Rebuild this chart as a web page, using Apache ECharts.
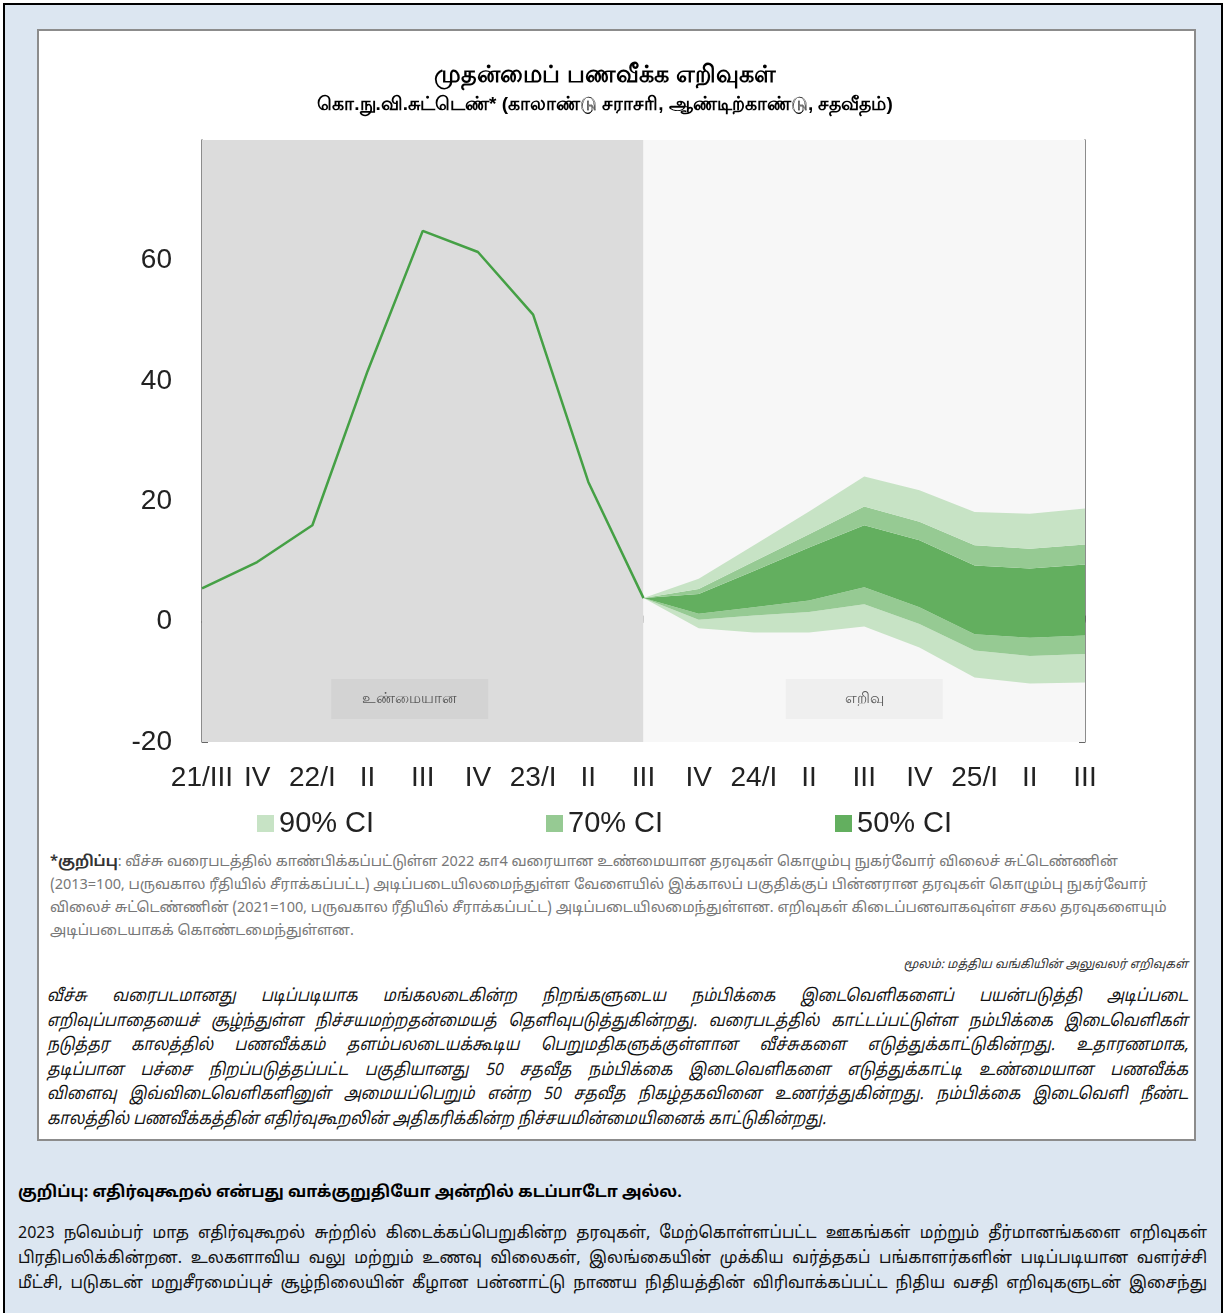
<!DOCTYPE html>
<html>
<head>
<meta charset="utf-8">
<script src="https://cdn.jsdelivr.net/npm/echarts@6/dist/echarts.min.js"></script>
<style>
  html, body { margin: 0; padding: 0; background: #fff; }
  body { width: 1225px; height: 1313px; position: relative; overflow: hidden;
         font-family: 'Noto Sans Tamil', 'Lohit Tamil', 'Latha', 'Liberation Sans', sans-serif; }
  .frame { position: absolute; left: 3px; top: 3px; width: 1216px; height: 1320px;
           background: #dce6f1; border-top: 2px solid #000; border-left: 2px solid #000; border-right: 2px solid #000; }
  .box { position: absolute; left: 37px; top: 29px; width: 1155px; height: 1108px;
         background: #fff; border: 2px solid #8c8c8c; }
  #chart { position: absolute; left: 0; top: 0; width: 1210px; height: 850px; }
  .txt { position: absolute; }
  .jl { text-align: justify; text-align-last: justify; }
  .notes { left: 50px; top: 851px; width: 1130px; font-size: 14.5px; line-height: 23px; color: #777; }
  .notes b { color: #333; }
  .src { right: 37px; top: 958px; font-size: 12px; font-style: italic; color: #333; }
  /* condensed look: lay out wider, then squeeze horizontally */
  .ital { left: 47px; top: 985px; width: 1268px; font-size: 17px; font-style: italic; line-height: 24.6px; color: #111;
          transform: scaleX(0.9); transform-origin: 0 0; }
  .head { left: 18px; top: 1183px; font-size: 16px; font-weight: bold; color: #000; }
  .para { left: 18px; top: 1221px; width: 1265px; font-size: 17px; line-height: 25px; color: #111;
          transform: scaleX(0.94); transform-origin: 0 0; }
</style>
</head>
<body>
<div class="frame"></div>
<div class="box"></div>
<div id="chart"></div>

<div class="txt notes">
  <div><b>*குறிப்பு</b>: வீச்சு வரைபடத்தில் காண்பிக்கப்பட்டுள்ள 2022 கா4 வரையான உண்மையான தரவுகள் கொழும்பு நுகர்வோர் விலைச் சுட்டெண்ணின்</div>
  <div>(2013=100, பருவகால ரீதியில் சீராக்கப்பட்ட) அடிப்படையிலமைந்துள்ள வேளையில் இக்காலப் பகுதிக்குப் பின்னரான தரவுகள் கொழும்பு நுகர்வோர்</div>
  <div>விலைச் சுட்டெண்ணின் (2021=100, பருவகால ரீதியில் சீராக்கப்பட்ட) அடிப்படையிலமைந்துள்ளன. எறிவுகள் கிடைப்பனவாகவுள்ள சகல தரவுகளையும்</div>
  <div>அடிப்படையாகக் கொண்டமைந்துள்ளன.</div>
</div>
<div class="txt src">மூலம்: மத்திய வங்கியின் அலுவலர் எறிவுகள்</div>
<div class="txt ital">
  <div class="jl">வீச்சு வரைபடமானது படிப்படியாக மங்கலடைகின்ற நிறங்களுடைய நம்பிக்கை இடைவெளிகளைப் பயன்படுத்தி அடிப்படை</div>
  <div class="jl">எறிவுப்பாதையைச் சூழ்ந்துள்ள நிச்சயமற்றதன்மையத் தெளிவுபடுத்துகின்றது. வரைபடத்தில் காட்டப்பட்டுள்ள நம்பிக்கை இடைவெளிகள்</div>
  <div class="jl">நடுத்தர காலத்தில் பணவீக்கம் தளம்பலடையக்கூடிய பெறுமதிகளுக்குள்ளான வீச்சுகளை எடுத்துக்காட்டுகின்றது. உதாரணமாக,</div>
  <div class="jl">தடிப்பான பச்சை நிறப்படுத்தப்பட்ட பகுதியானது 50 சதவீத நம்பிக்கை இடைவெளிகளை எடுத்துக்காட்டி உண்மையான பணவீக்க</div>
  <div class="jl">விளைவு இவ்விடைவெளிகளினுள் அமையப்பெறும் என்ற 50 சதவீத நிகழ்தகவினை உணர்த்துகின்றது. நம்பிக்கை இடைவெளி நீண்ட</div>
  <div>காலத்தில் பணவீக்கத்தின் எதிர்வுகூறலின் அதிகரிக்கின்ற நிச்சயமின்மையினைக் காட்டுகின்றது.</div>
</div>
<div class="txt head">குறிப்பு: எதிர்வுகூறல் என்பது வாக்குறுதியோ அன்றில் கடப்பாடோ அல்ல.</div>
<div class="txt para">
  <div class="jl">2023 நவெம்பர் மாத எதிர்வுகூறல் சுற்றில் கிடைக்கப்பெறுகின்ற தரவுகள், மேற்கொள்ளப்பட்ட ஊகங்கள் மற்றும் தீர்மானங்களை எறிவுகள்</div>
  <div class="jl">பிரதிபலிக்கின்றன. உலகளாவிய வலு மற்றும் உணவு விலைகள், இலங்கையின் முக்கிய வர்த்தகப் பங்காளர்களின் படிப்படியான வளர்ச்சி</div>
  <div class="jl">மீட்சி, படுகடன் மறுசீரமைப்புச் சூழ்நிலையின் கீழான பன்னாட்டு நாணய நிதியத்தின் விரிவாக்கப்பட்ட நிதிய வசதி எறிவுகளுடன் இசைந்து</div>
</div>

<script>
// quarters, 2021 Q3 .. 2025 Q3
const categories = ['21/III', 'IV', '22/I', 'II', 'III', 'IV', '23/I', 'II', 'III',
                    'IV', '24/I', 'II', 'III', 'IV', '25/I', 'II', 'III'];
// actual core inflation (y-o-y, %)
const actual = [5.5, 9.9, 16.0, 41.6, 64.9, 61.4, 51.0, 23.2, 3.9];
// forecast bands from 23/III onwards
const lo90 = [3.9, -1.1, -1.8, -1.8, -0.8, -4.3, -9.3, -10.3, -10.1];
const lo70 = [3.9, 0.3, 1.0, 1.6, 2.9, -0.4, -4.8, -5.7, -5.4];
const lo50 = [3.9, 1.3, 2.4, 3.5, 5.7, 2.4, -2.1, -2.7, -2.3];
const hi50 = [3.9, 4.6, 8.4, 12.3, 16.0, 13.5, 9.3, 8.8, 9.5];
const hi70 = [3.9, 5.4, 10.0, 14.5, 19.1, 16.6, 12.7, 12.1, 12.8];
const hi90 = [3.9, 7.1, 12.7, 18.3, 24.1, 21.8, 18.2, 17.9, 18.8];

const FIRST_FC = actual.length - 1;
const c90 = '#c7e3c5', c70 = '#96ca93', c50 = '#63af5f';

function pad(arr) {
  const out = [];
  for (let i = 0; i < FIRST_FC; i++) out.push('-');
  return out.concat(arr);
}
function diff(a, b) {
  return a.map((v, i) => +(v - b[i]).toFixed(2));
}

function band(name, data, color) {
  return {
    name: name, type: 'line', stack: 'fan', stackStrategy: 'all',
    data: pad(data), color: color, symbol: 'none', showSymbol: false, silent: true,
    lineStyle: { opacity: 0 }, areaStyle: { color: color, opacity: 1 }, z: 3
  };
}

const myChart = echarts.init(document.getElementById('chart'));
const latin = 'Liberation Sans, Arial, sans-serif';
const tickFont = { fontFamily: latin, fontSize: 28, color: '#222' };
const legendText = { fontFamily: latin, fontSize: 29, color: '#222' };

const base = band('base', lo90, '#fff');
delete base.areaStyle;

const option = {
  animation: false,
  title: {
    text: 'முதன்மைப் பணவீக்க எறிவுகள்',
    subtext: 'கொ.நு.வி.சுட்டெண்* (காலாண்டு சராசரி, ஆண்டிற்காண்டு, சதவீதம்)',
    left: 'center', top: 58, itemGap: 8,
    textStyle: { fontSize: 24, fontWeight: 'bold', color: '#000' },
    subtextStyle: { fontSize: 19, fontWeight: 'bold', color: '#000' }
  },
  grid: { left: 202, right: 125, top: 140, height: 602, containLabel: false },
  legend: [
    { left: 252, top: 804, icon: 'rect', itemWidth: 17, itemHeight: 17, itemGap: 0, data: ['90% CI'], textStyle: legendText },
    { left: 541, top: 804, icon: 'rect', itemWidth: 17, itemHeight: 17, itemGap: 0, data: ['70% CI'], textStyle: legendText },
    { left: 830, top: 804, icon: 'rect', itemWidth: 17, itemHeight: 17, itemGap: 0, data: ['50% CI'], textStyle: legendText }
  ],
  xAxis: {
    type: 'category', data: categories, boundaryGap: false,
    axisLine: { lineStyle: { color: '#666', width: 1.5 } },
    axisTick: { inside: true, length: 6, lineStyle: { color: '#666' } },
    axisLabel: Object.assign({ margin: 22, interval: 0 }, tickFont),
    splitLine: { show: false }
  },
  yAxis: [
    {
      type: 'value', min: -20, max: 80, interval: 20,
      axisLine: { show: true, lineStyle: { color: '#666', width: 1.5 } },
      axisTick: { show: true, inside: true, length: 6, lineStyle: { color: '#666' } },
      axisLabel: Object.assign({ margin: 30, formatter: v => (v === 80 ? '' : v) }, tickFont),
      splitLine: { show: false }
    },
    {
      type: 'value', min: -20, max: 80, interval: 20, position: 'right',
      axisLine: { show: true, lineStyle: { color: '#666', width: 1.5 } },
      axisTick: { show: true, inside: true, length: 6, lineStyle: { color: '#666' } },
      axisLabel: { show: false }, splitLine: { show: false }
    }
  ],
  series: [
    {
      name: 'actual', type: 'line', data: actual, symbol: 'none', showSymbol: false, z: 5,
      lineStyle: { color: '#45a045', width: 2.5 }, color: '#45a045',
      markArea: {
        silent: true, z: 1,
        label: {
          show: true, position: 'insideBottom', distance: 23, formatter: '{b}',
          width: 157, height: 40, lineHeight: 40, align: 'center',
          fontSize: 15, color: '#555'
        },
        data: [
          [{ xAxis: 0, name: 'உண்மையான', itemStyle: { color: '#dcdcdc' },
             label: { backgroundColor: '#d3d3d3', offset: [-13, 0] } },
           { xAxis: FIRST_FC }],
          [{ xAxis: FIRST_FC, name: 'எறிவு', itemStyle: { color: '#f7f7f7' },
             label: { backgroundColor: '#efefef' } },
           { xAxis: categories.length - 1 }]
        ]
      }
    },
    base,
    band('90% CI', diff(lo70, lo90), c90),
    band('70% CI', diff(lo50, lo70), c70),
    band('50% CI', diff(hi50, lo50), c50),
    band('70% CI', diff(hi70, hi50), c70),
    band('90% CI', diff(hi90, hi70), c90)
  ]
};
myChart.setOption(option);
</script>
</body>
</html>
